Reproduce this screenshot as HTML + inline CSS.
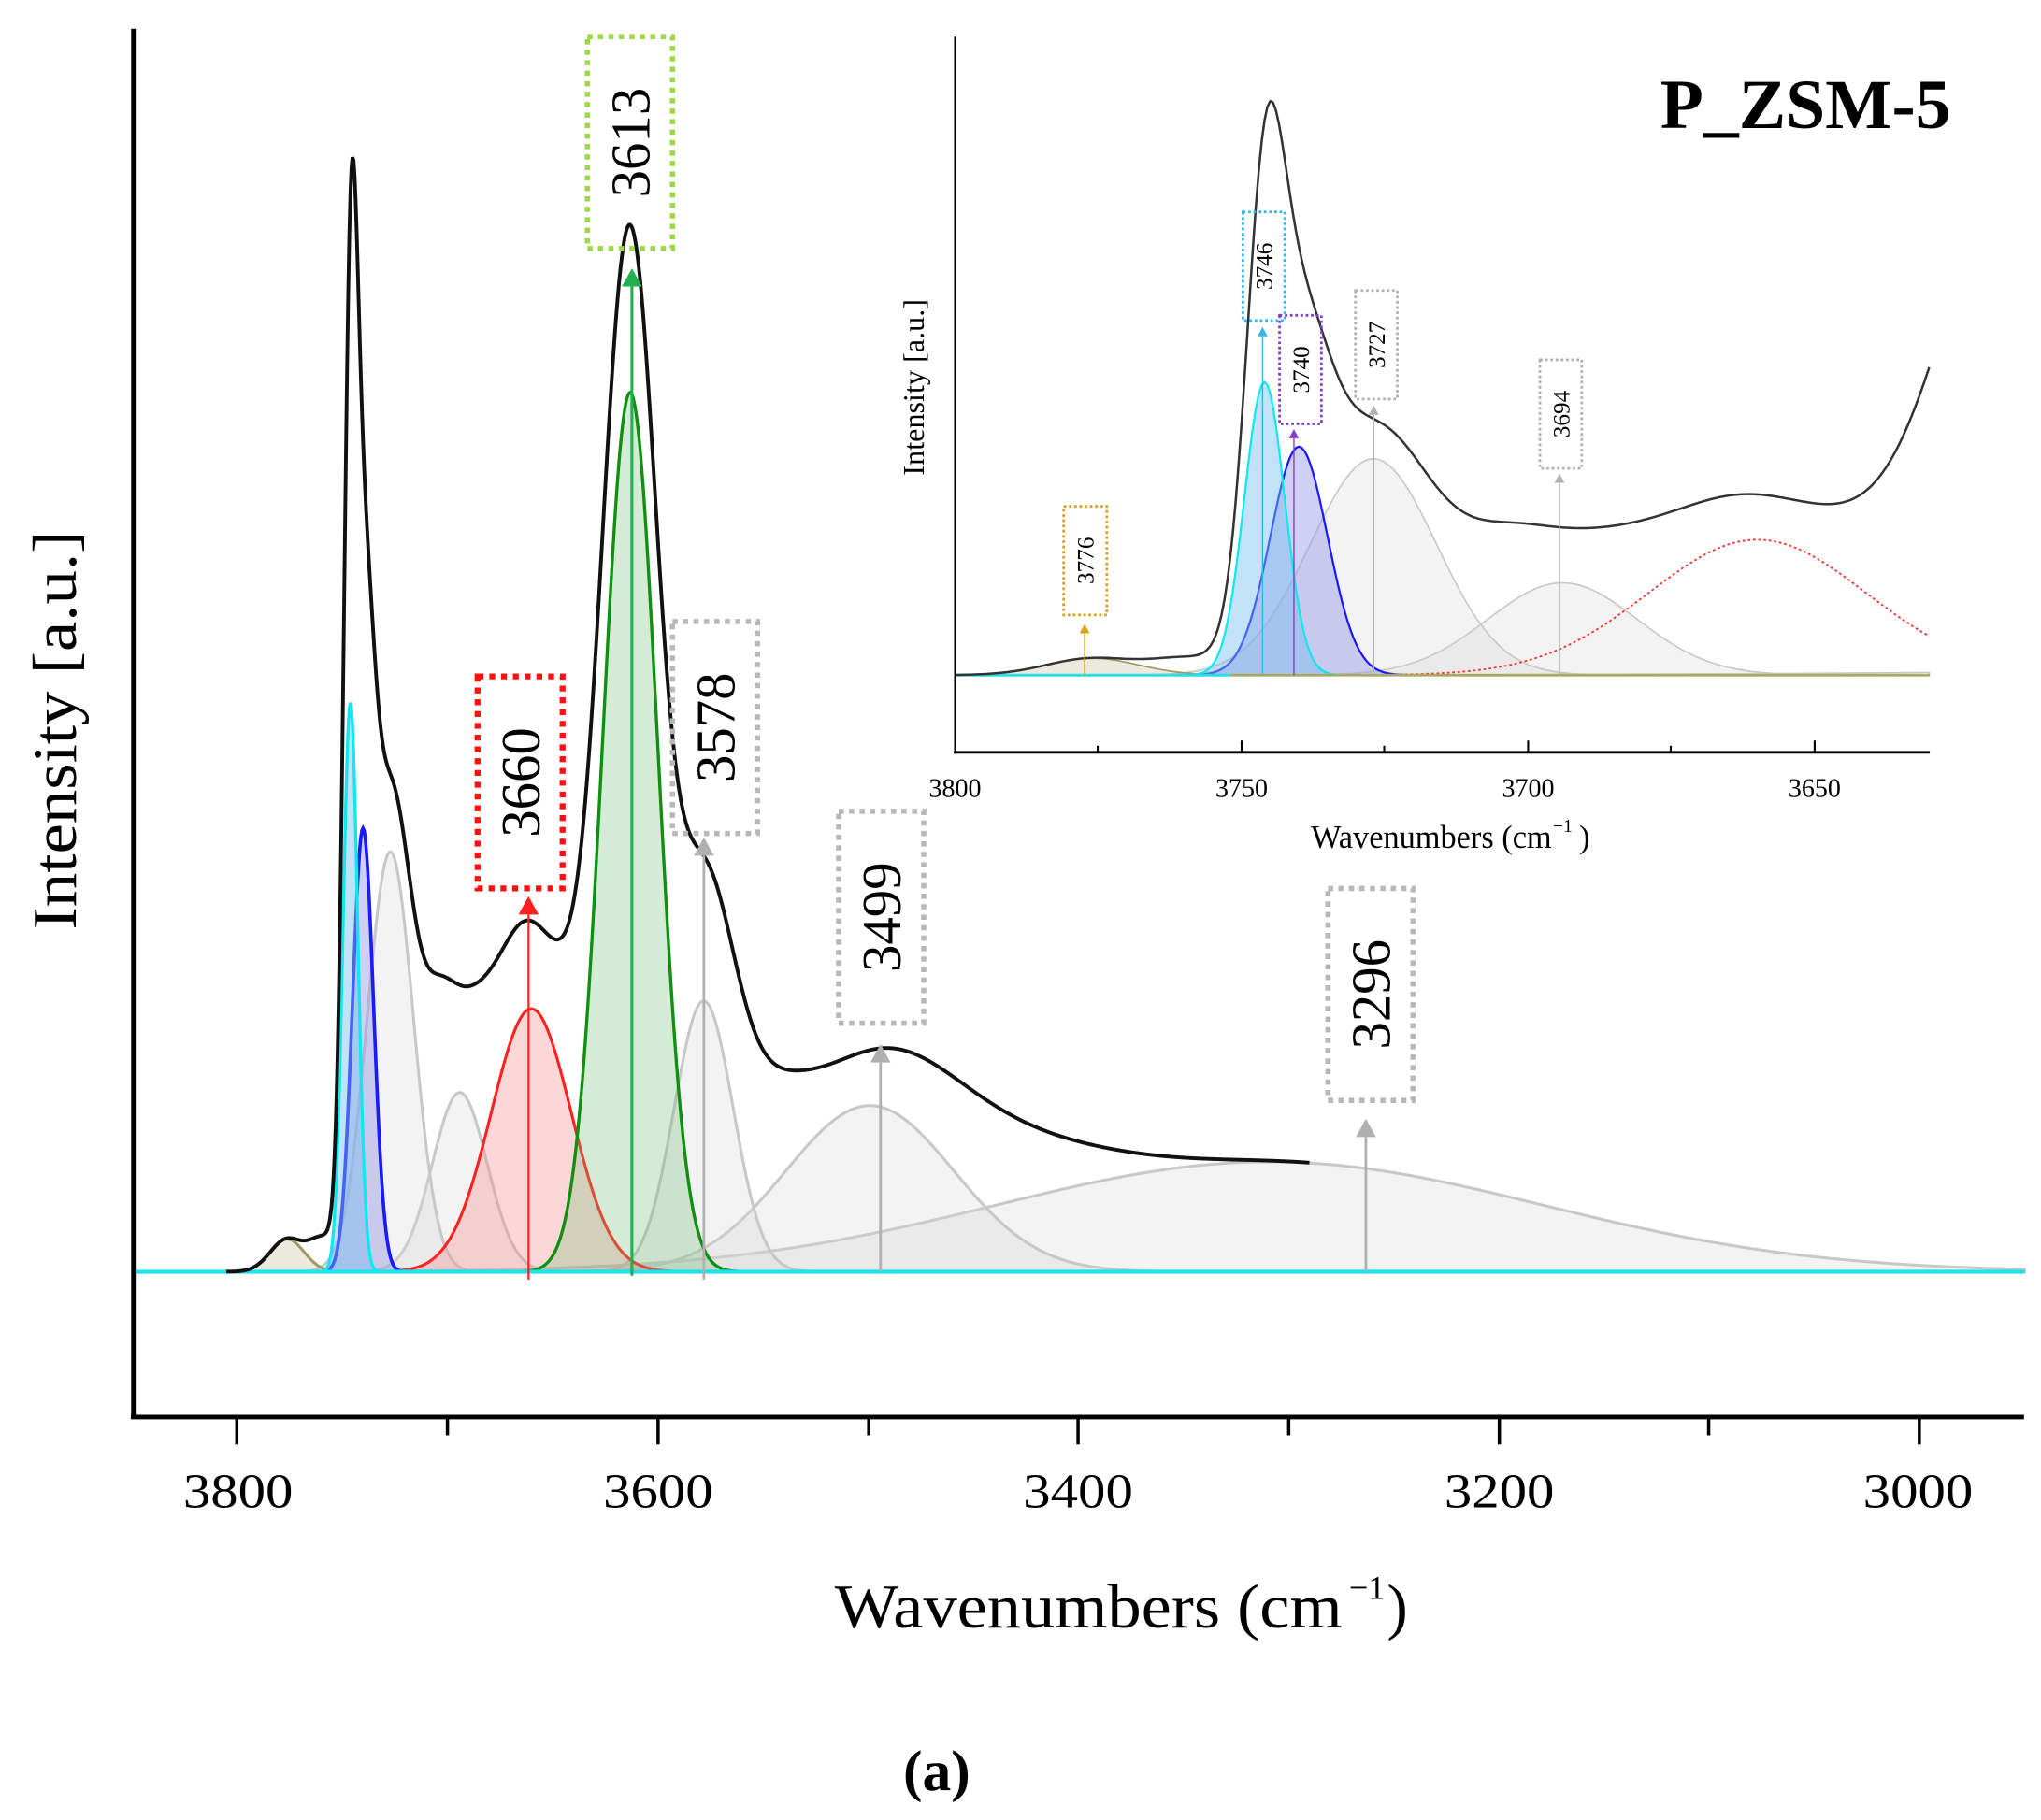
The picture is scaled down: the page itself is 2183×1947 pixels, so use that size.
<!DOCTYPE html>
<html><head><meta charset="utf-8">
<style>
html,body{margin:0;padding:0;background:#fff;}
svg{display:block;}
text{font-family:"Liberation Serif","DejaVu Serif",serif;}
</style></head>
<body>
<svg id="s" width="2183" height="1947" viewBox="0 0 1560 1391" preserveAspectRatio="none" xmlns="http://www.w3.org/2000/svg">
<g id="main"></g>
<g id="inset"></g>
<g id="static">
  <line x1="102" y1="22" x2="102" y2="1084" stroke="#000" stroke-width="3.5"/>
  <line x1="100" y1="1083" x2="1547" y2="1083" stroke="#000" stroke-width="3.5"/>
  <g stroke="#000" stroke-width="2.5">
    <line x1="181" y1="1083" x2="181" y2="1104"/>
    <line x1="342" y1="1083" x2="342" y2="1097"/>
    <line x1="503" y1="1083" x2="503" y2="1104"/>
    <line x1="664" y1="1083" x2="664" y2="1097"/>
    <line x1="824" y1="1083" x2="824" y2="1104"/>
    <line x1="985" y1="1083" x2="985" y2="1097"/>
    <line x1="1146" y1="1083" x2="1146" y2="1104"/>
    <line x1="1306" y1="1083" x2="1306" y2="1097"/>
    <line x1="1467" y1="1083" x2="1467" y2="1104"/>
  </g>
  <g font-size="37" text-anchor="middle">
    <text x="182" y="1152" textLength="84" lengthAdjust="spacingAndGlyphs">3800</text>
    <text x="503" y="1152" textLength="84" lengthAdjust="spacingAndGlyphs">3600</text>
    <text x="824" y="1152" textLength="84" lengthAdjust="spacingAndGlyphs">3400</text>
    <text x="1146" y="1152" textLength="84" lengthAdjust="spacingAndGlyphs">3200</text>
    <text x="1466" y="1152" textLength="84" lengthAdjust="spacingAndGlyphs">3000</text>
  </g>
  <text x="638" y="1244" font-size="48" textLength="388" lengthAdjust="spacingAndGlyphs">Wavenumbers (cm</text>
  <text x="1031" y="1222" font-size="26">−1</text>
  <text x="1060" y="1244" font-size="48">)</text>
  <text transform="translate(58,558) rotate(-90)" font-size="48" text-anchor="middle" textLength="305" lengthAdjust="spacingAndGlyphs">Intensity [a.u.]</text>
  <text x="716" y="1368" font-size="44" font-weight="bold" text-anchor="middle">(a)</text>

  <line x1="730" y1="28" x2="730" y2="576" stroke="#000" stroke-width="1.5"/>
  <line x1="729" y1="575" x2="1475" y2="575" stroke="#000" stroke-width="2"/>
  <g stroke="#000" stroke-width="1.5">
    <line x1="730" y1="575" x2="730" y2="566"/>
    <line x1="839" y1="575" x2="839" y2="570"/>
    <line x1="949" y1="575" x2="949" y2="566"/>
    <line x1="1058" y1="575" x2="1058" y2="570"/>
    <line x1="1168" y1="575" x2="1168" y2="566"/>
    <line x1="1277" y1="575" x2="1277" y2="570"/>
    <line x1="1387" y1="575" x2="1387" y2="566"/>
  </g>
  <g font-size="20" text-anchor="middle">
    <text x="730" y="609">3800</text>
    <text x="949" y="609">3750</text>
    <text x="1168" y="609">3700</text>
    <text x="1387" y="609">3650</text>
  </g>
  <text x="1002" y="648" font-size="25" textLength="184" lengthAdjust="spacingAndGlyphs">Wavenumbers (cm</text>
  <text x="1187" y="636" font-size="14">−1</text>
  <text x="1207" y="648" font-size="25">)</text>
  <text transform="translate(706,296) rotate(-90)" font-size="23" text-anchor="middle">Intensity [a.u.]</text>
  <text x="1380" y="98" font-size="54" font-weight="bold" text-anchor="middle">P_ZSM-5</text>
</g>
<g id="labels"></g>
</svg>
<script>
var NS="http://www.w3.org/2000/svg";
function el(parent,tag,attrs,txt){var e=document.createElementNS(NS,tag);for(var k in attrs)e.setAttribute(k,attrs[k]);if(txt)e.textContent=txt;parent.appendChild(e);return e;}
function g(w,c,h,s){return h*Math.exp(-(w-c)*(w-c)/(2*s*s));}
var comps={
 olive:[3776,25,8],
 cyan:[3746,435,3.5],
 blue:[3740,339,5],
 g3727:[3727,321,11],
 g3694:[3694,137,13],
 red:[3660,201,19],
 green:[3613,672,13],
 g3578:[3578,207,14],
 g3499:[3499,127,40],
 g3296:[3309,84,130]
};
var fudge=[[3746,143,3],[3613,90,20],[3630,40,10],[3727,40,10],[3666,55,15],[3705,70,8],[3645,15,8],[3578,5,15],[3555,70,22],[3430,35,45],[3760,20,6]];
function total(w){var t=0;for(var k in comps){var c=comps[k];t+=g(w,c[0],c[1],c[2]);}for(var i=0;i<fudge.length;i++){var f=fudge[i];t+=g(w,f[0],f[1],f[2]);}return t;}
function comp(k,w){var c=comps[k];return g(w,c[0],c[1],c[2]);}

function drawSet(gr,X,Y0,sc,w0,w1,opts){
  function path(fn,closed){
    var d="",step=0.5;
    for(var w=w0;w>=w1;w-=step){var x=X(w),y=Y0-fn(w)*sc;d+=(d?"L":"M")+x.toFixed(2)+","+y.toFixed(2);}
    if(closed)d+="L"+X(w1).toFixed(2)+","+Y0+"L"+X(w0).toFixed(2)+","+Y0+"Z";
    return d;
  }
  var greys=["g3296","g3499","g3578","g3694","g3727"];
  greys.forEach(function(k){
    el(gr,"path",{d:path(function(w){return comp(k,w);},true),fill:"rgba(215,215,215,0.3)",stroke:"#c8c8c8","stroke-width":opts.gw});
  });
  el(gr,"path",{d:path(function(w){return comp("olive",w);},true),fill:"rgba(200,195,160,0.35)",stroke:"#a09a60","stroke-width":opts.gw});
  if(!opts.inset){
    el(gr,"path",{d:path(function(w){return comp("red",w);},true),fill:"rgba(245,140,140,0.35)",stroke:"#ff2020","stroke-width":2.2});
    el(gr,"path",{d:path(function(w){return comp("green",w);},true),fill:"rgba(120,190,120,0.3)",stroke:"#109010","stroke-width":2.4});
  } else {
    el(gr,"path",{d:path(function(w){return comp("red",w);},false),fill:"none",stroke:"#ff3030","stroke-width":1.3,"stroke-dasharray":"2,2"});
  }
  el(gr,"path",{d:path(function(w){return comp("blue",w);},true),fill:"rgba(150,150,230,0.45)",stroke:"#1a1aff","stroke-width":opts.inset?1.6:2.6});
  el(gr,"path",{d:path(function(w){return comp("cyan",w);},true),fill:"rgba(120,190,240,0.45)",stroke:"#10e8f0","stroke-width":opts.inset?1.6:2.4});
  el(gr,"line",{x1:opts.bx0,y1:Y0,x2:opts.bx1,y2:Y0,stroke:opts.inset?"#a8a860":"#20e0f0","stroke-width":opts.inset?2:3});
  if(opts.inset) el(gr,"line",{x1:opts.bx0,y1:Y0,x2:X(3752),y2:Y0,stroke:"#20e0f0","stroke-width":2});
  var d="";for(var w=opts.totalStart;w>=opts.totalEnd;w-=0.5){var x=X(w),y=Y0-total(w)*sc;d+=(d?"L":"M")+x.toFixed(2)+","+y.toFixed(2);}
  el(gr,"path",{d:d,fill:"none",stroke:opts.inset?"#333":"#111","stroke-width":opts.inset?1.8:2.8});
}
var main=document.getElementById("main");
drawSet(main,function(w){return 181+(3800-w)*1.6075;},972,1,3810,2950,{gw:2.2,bx0:102,bx1:1547,totalStart:3805,totalEnd:3290});
var inset=document.getElementById("inset");
drawSet(inset,function(w){return 730+(3800-w)*4.38;},516,0.515,3800,3630,{gw:1.2,inset:true,bx0:730,bx1:1475,totalStart:3800,totalEnd:3630});

var L=document.getElementById("labels");
function label(bx,by,bw,bh,txt,col,fs,sw,ax,ay0,ay1,acol,aw,ah){
  el(L,"rect",{x:bx,y:by,width:bw,height:bh,fill:"#fff","fill-opacity":0,stroke:col,"stroke-width":sw,"stroke-dasharray":sw+","+sw});
  el(L,"text",{transform:"translate("+(bx+bw/2+fs*0.35)+","+(by+bh/2)+") rotate(-90)","font-size":fs,"text-anchor":"middle",fill:"#000"},txt);
  el(L,"line",{x1:ax,y1:ay0,x2:ax,y2:ay1+ah,stroke:acol,"stroke-width":aw});
  el(L,"path",{d:"M"+(ax-ah*0.55)+","+(ay1+ah)+"L"+ax+","+ay1+"L"+(ax+ah*0.55)+","+(ay1+ah)+"Z",fill:acol});
}
label(449,28,65,162,"3613","#9ed84a",42,4,483,975,205,"#20b050",2.2,14);
label(365,517,65,162,"3660","#ff1010",42,4.5,404,978,685,"#ff2020",1.6,14);
label(514,475,65,162,"3578","#b8b8b8",42,4,538,978,640,"#b0b0b0",2,14);
label(641,620,65,162,"3499","#b8b8b8",42,4,673,972,798,"#b0b0b0",2,14);
label(1015,679,65,162,"3296","#b8b8b8",42,4,1044,972,855,"#b0b0b0",2,14);
label(813,387,33,83,"3776","#d4a020",18,2,829,516,477,"#d4a020",1,7);
label(950,162,32,83,"3746","#30b8e8",18,2,965,516,250,"#30b8e8",1,7);
label(978,241,32,83,"3740","#8040c0",18,2,989,516,328,"#8040c0",1,7);
label(1036,222,32,83,"3727","#b0b0b0",18,2,1050,516,310,"#b0b0b0",1,7);
label(1177,275,32,83,"3694","#b0b0b0",18,2,1192,516,362,"#b0b0b0",1,7);
</script>
</body></html>
